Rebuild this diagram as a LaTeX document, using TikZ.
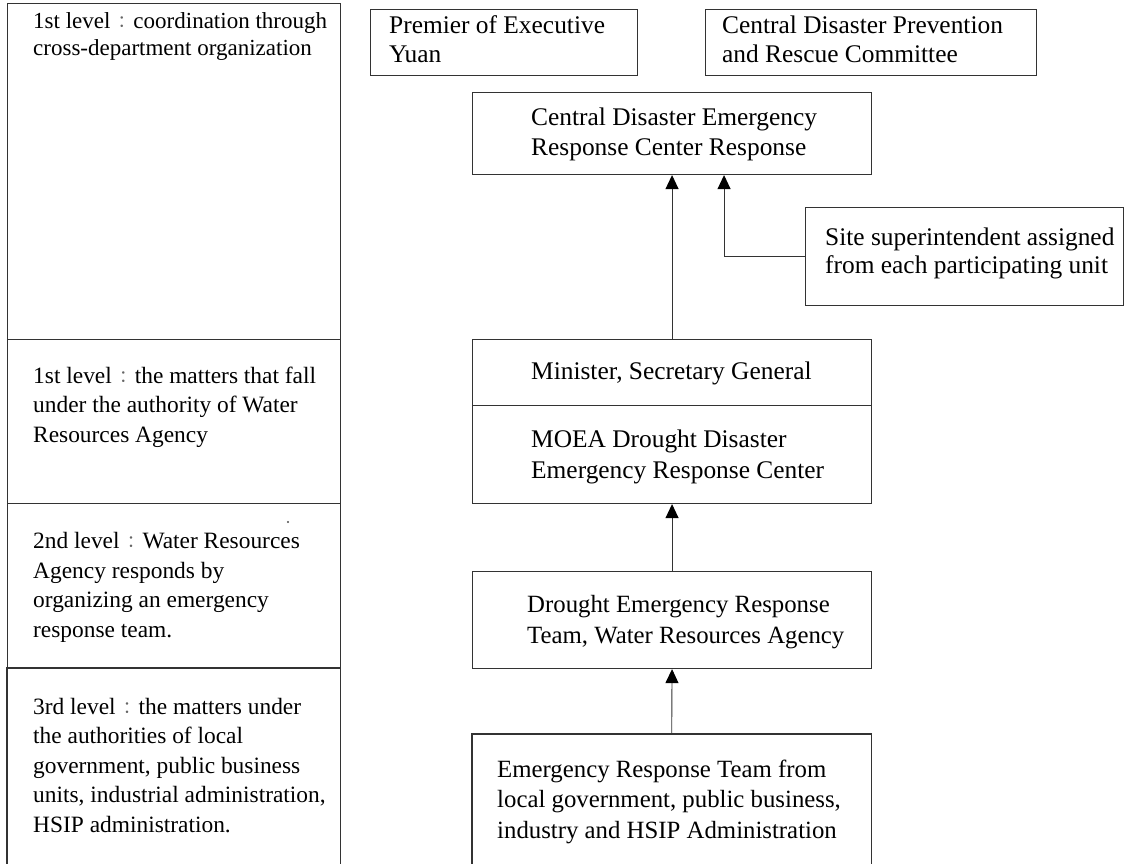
\documentclass[tikz,border=0pt]{standalone}
\usepackage{fontspec}
\setmainfont{Liberation Serif}
\newfontfamily\cjk{Noto Sans CJK TC}
\usetikzlibrary{arrows.meta}
\newcommand{\fc}{\makebox[23pt][c]{\cjk\fontsize{17}{17}\selectfont\color{black!60}：}}
\tikzset{
  box/.style={draw=black!80, line width=1.1pt, inner sep=0pt, anchor=north west},
  openbox/.style={inner sep=0pt, anchor=north west},
  side/.style={draw=black!80, line width=1.1pt},
  lbl/.style={inner sep=0pt, anchor=base west, align=left},
  lfont/.style={font=\fontsize{23.4}{29.5}\selectfont},
  rfont/.style={font=\fontsize{25.4}{30}\selectfont},
  arr/.style={-{Triangle[width=13pt,length=14pt,color=black]}, line width=0.9pt, draw=black!80}
}
\begin{document}
\begin{tikzpicture}[x=1pt,y=-1pt]
\useasboundingbox (0,0) rectangle (1138,864);
% left column
\node[box, minimum width=333pt, minimum height=336pt] (l1) at (7,3) {};
\node[box, minimum width=333pt, minimum height=164pt] (l2) at (7,339) {};
\node[box, minimum width=333pt, minimum height=165pt] (l3) at (7,503) {};
\node[openbox, minimum width=333pt, minimum height=196pt] (l4) at (7,668) {};
\draw[side] (l4.south west) -- (l4.north west) -- (l4.north east) -- (l4.south east);
% (base anchor = baseline of the last line)
\node[lbl, font=\fontsize{23}{27}\selectfont] (t1) at (33,56) {1st level\fc coordination through\\cross-department organization};
\node[lbl, lfont] (t2) at (33,442) {1st level\fc the matters that fall\\under the authority of Water\\Resources Agency};
\node[lbl, lfont] (t3) at (33,637) {2nd level\fc Water Resources\\Agency responds by\\organizing an emergency\\response team.};
\node[lbl, lfont] (t4) at (33,832) {3rd level\fc the matters under\\the authorities of local\\government, public business\\units, industrial administration,\\HSIP administration.};
\fill[black!70] (288,522) circle (1.2pt);
% top boxes
\node[box, minimum width=267pt, minimum height=66pt] (prem) at (370,9) {};
\node[box, minimum width=331pt, minimum height=66pt] (cdprc) at (705,9) {};
\node[lbl, font=\fontsize{25.4}{29}\selectfont] (tprem) at (389,63) {Premier of Executive\\Yuan};
\node[lbl, font=\fontsize{25.4}{29}\selectfont] (tcdprc) at (722,63) {Central Disaster Prevention\\and Rescue Committee};
% middle column
\node[box, minimum width=399pt, minimum height=82pt] (ce) at (472,92) {};
\node[lbl, rfont] (tce) at (531,156) {Central Disaster Emergency\\Response Center Response};
\node[box, minimum width=318pt, minimum height=98pt] (site) at (805,207) {};
\node[lbl, font=\fontsize{25.4}{28}\selectfont] (tsite) at (825,273) {Site superintendent assigned\\from each participating unit};
\node[box, minimum width=399pt, minimum height=66pt] (min) at (472,339) {};
\node[lbl, rfont] (tmin) at (531,379) {Minister, Secretary General};
\node[box, minimum width=399pt, minimum height=98pt] (moea) at (472,405) {};
\node[lbl, font=\fontsize{25.4}{31}\selectfont] (tmoea) at (531,478) {MOEA Drought Disaster\\Emergency Response Center};
\node[box, minimum width=399pt, minimum height=97pt] (drought) at (472,571) {};
\node[lbl, font=\fontsize{24.8}{31}\selectfont] (tdrought) at (527,643) {Drought Emergency Response\\Team, Water Resources Agency};
\node[openbox, minimum width=399pt, minimum height=130pt] (team) at (472,734) {};
\draw[side] (team.south west) -- (team.north west) -- (team.north east) -- (team.south east);
\node[lbl, font=\fontsize{24.8}{30.5}\selectfont] (tteam) at (497,838) {Emergency Response Team from\\local government, public business,\\industry and HSIP Administration};
% connectors
\draw[arr] (min.north) -- (ce.south);
\draw[arr] (site.west) -| ([xshift=52pt]ce.south);
\draw[arr] (drought.north) -- (moea.south);
\draw[arr] (team.north) -- (drought.south);
\end{tikzpicture}
\end{document}
